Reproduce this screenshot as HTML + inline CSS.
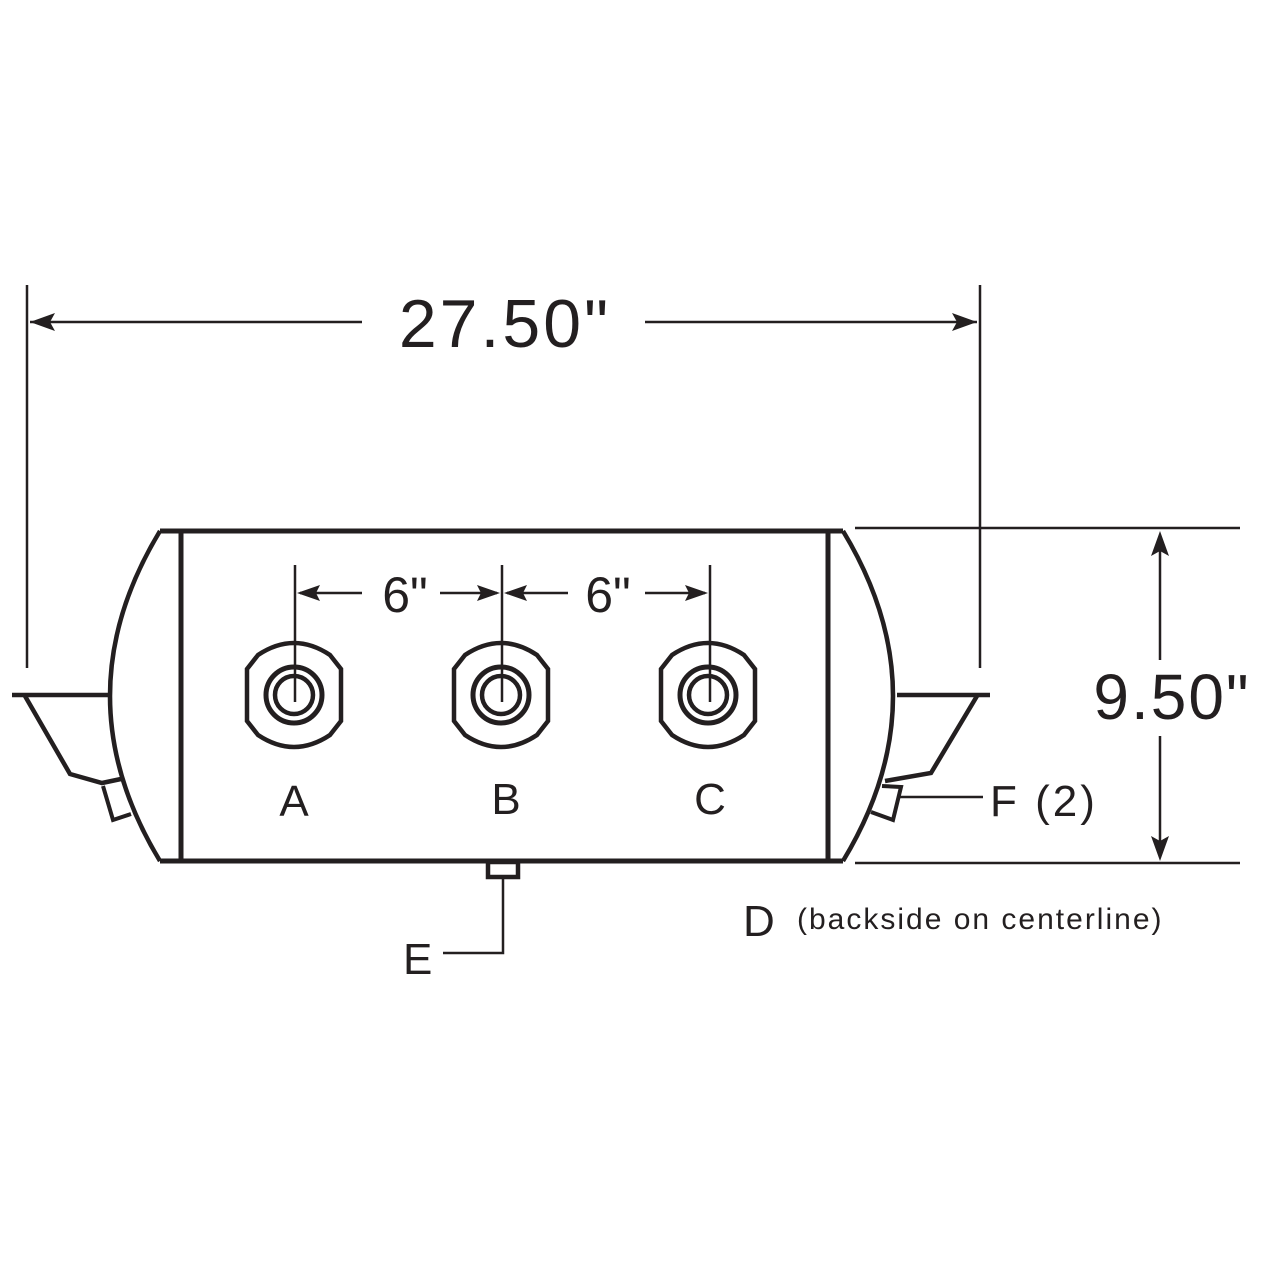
<!DOCTYPE html>
<html><head><style>
html,body{margin:0;padding:0;background:#fff;}
svg{display:block;}
text{font-family:"Liberation Sans",sans-serif;fill:#231f20;}
</style></head><body>
<svg width="1280" height="1280" viewBox="0 0 1280 1280" xmlns="http://www.w3.org/2000/svg">
<defs>
<g id="port">
<path d="M-36,-40 Q0,-64 36,-40 L47,-26 L47,26 L36,40 Q0,64 -36,40 L-47,26 L-47,-26 Z" fill="none" stroke="#231f20" stroke-width="4.5"/>
<circle r="28" fill="none" stroke="#231f20" stroke-width="5"/>
<circle r="19" fill="none" stroke="#231f20" stroke-width="4.5"/>
</g>
</defs>
<g stroke="#231f20" fill="none" stroke-linecap="butt">
<line x1="27" y1="285" x2="27" y2="668" stroke-width="2.5"/>
<line x1="980" y1="285" x2="980" y2="668" stroke-width="2.5"/>
<line x1="30" y1="322" x2="362" y2="322" stroke-width="2.5"/>
<line x1="645" y1="322" x2="977" y2="322" stroke-width="2.5"/>
<line x1="160" y1="531" x2="843" y2="531" stroke-width="5"/>
<line x1="160" y1="861" x2="843" y2="861" stroke-width="5"/>
<line x1="181" y1="531" x2="181" y2="861" stroke-width="5"/>
<line x1="828" y1="531" x2="828" y2="861" stroke-width="5"/>
<path d="M160,531 Q60,696 160,861" stroke-width="4.5"/>
<path d="M843,531 Q943,696 843,861" stroke-width="4.5"/>
<path d="M12,695 L110,695" stroke-width="4.5"/>
<path d="M25,696 L70,774 L102,783 L121,779" stroke-width="4.5"/>
<path d="M103,786 L113,820 L131,814" stroke-width="4"/>
<path d="M897,695 L990,695" stroke-width="4.5"/>
<path d="M977,696 L931,773 L885,781" stroke-width="4.5"/>
<path d="M882,786 L901,787 L893,820 L871,812" stroke-width="4"/>
<line x1="900" y1="797" x2="983" y2="797" stroke-width="2.5"/>
<line x1="855" y1="528" x2="1240" y2="528" stroke-width="2.5"/>
<line x1="855" y1="863" x2="1240" y2="863" stroke-width="2.5"/>
<line x1="1160" y1="535" x2="1160" y2="857" stroke-width="2.5"/>
<line x1="295" y1="565" x2="295" y2="702" stroke-width="2.5"/>
<line x1="502" y1="565" x2="502" y2="702" stroke-width="2.5"/>
<line x1="710" y1="565" x2="710" y2="702" stroke-width="2.5"/>
<line x1="300" y1="593" x2="362" y2="593" stroke-width="2.5"/>
<line x1="440" y1="593" x2="497" y2="593" stroke-width="2.5"/>
<line x1="507" y1="593" x2="568" y2="593" stroke-width="2.5"/>
<line x1="645" y1="593" x2="705" y2="593" stroke-width="2.5"/>
<rect x="488" y="862" width="30" height="15" stroke-width="4.5"/>
<path d="M503,878 L503,953 L443,953" stroke-width="2.5"/>
</g>
<g fill="#231f20">
<path d="M30,322 L55,313 L50,322 L55,331 Z"/>
<path d="M977,322 L952,313 L957,322 L952,331 Z"/>
<path d="M1160,531 L1151,556 L1160,551 L1169,556 Z"/>
<path d="M1160,861 L1151,836 L1160,841 L1169,836 Z"/>
<path d="M297,593 L320,585 L316,593 L320,601 Z"/>
<path d="M500,593 L477,585 L481,593 L477,601 Z"/>
<path d="M504,593 L527,585 L523,593 L527,601 Z"/>
<path d="M708,593 L685,585 L689,593 L685,601 Z"/>
</g>
<use href="#port" x="294" y="695"/>
<use href="#port" x="501" y="695"/>
<use href="#port" x="708" y="695"/>
<rect x="1085" y="660" width="172" height="76" fill="#fff"/>
<text x="505" y="347" font-size="68" text-anchor="middle" letter-spacing="3">27.50"</text>
<text x="1172" y="719" font-size="64" text-anchor="middle" letter-spacing="2">9.50"</text>
<text x="405" y="612" font-size="50" text-anchor="middle">6"</text>
<text x="608" y="612" font-size="50" text-anchor="middle">6"</text>
<text x="294" y="816" font-size="44" text-anchor="middle">A</text>
<text x="506" y="814" font-size="44" text-anchor="middle">B</text>
<text x="710" y="814" font-size="44" text-anchor="middle">C</text>
<text x="990" y="816" font-size="44" letter-spacing="3">F (2)</text>
<text x="403" y="974" font-size="44">E</text>
<text x="743" y="936" font-size="44">D</text>
<text x="797" y="929" font-size="30" letter-spacing="2">(backside on centerline)</text>
</svg>
</body></html>
